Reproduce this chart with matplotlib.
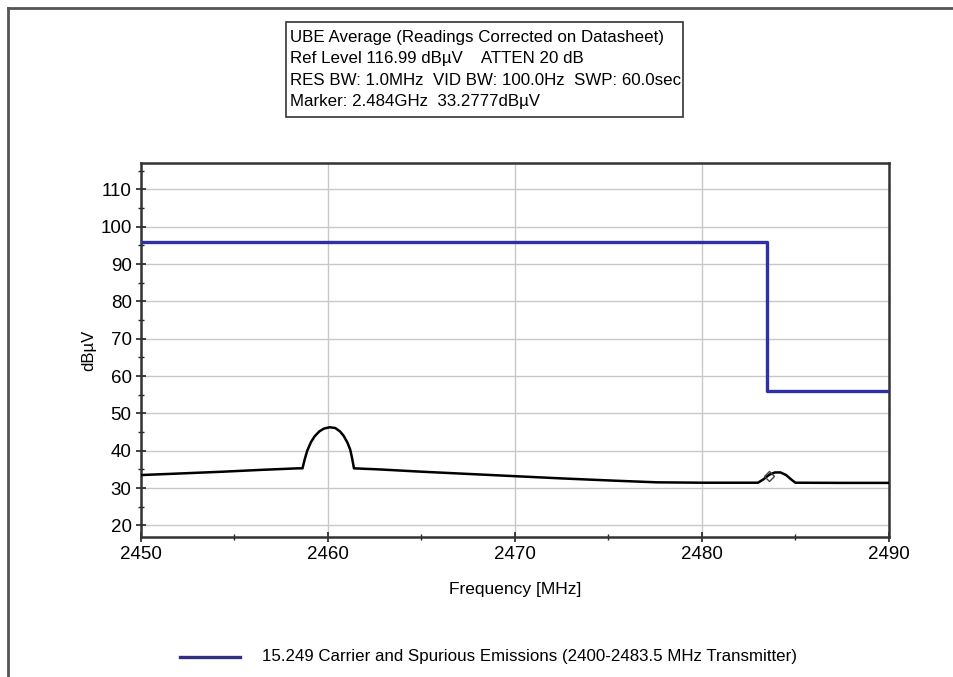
import matplotlib.pyplot as plt
from matplotlib.lines import Line2D
from matplotlib.patches import Rectangle
from matplotlib.ticker import MultipleLocator

plt.rcParams['font.family'] = ['Liberation Sans', 'DejaVu Sans']

freq_mhz = [2450.0, 2452.0, 2454.4, 2456.5, 2458.4, 2458.65, 2458.75, 2458.9,
            2459.1, 2459.3, 2459.55, 2459.8, 2460.1, 2460.4, 2460.65, 2460.85,
            2461.05, 2461.2, 2461.3, 2461.4, 2462.8, 2465.0, 2467.5, 2470.0,
            2472.5, 2475.3, 2477.6, 2480.0, 2483.0, 2483.3, 2483.6, 2483.9,
            2484.2, 2484.5, 2484.8, 2485.0, 2487.5, 2490.0]
level_dbuv = [33.5, 33.9, 34.4, 34.9, 35.3, 35.3, 37.4, 40.0,
              42.3, 43.9, 45.2, 45.95, 46.3, 46.1, 45.2, 44.0,
              42.2, 40.3, 38.0, 35.3, 35.0, 34.4, 33.8, 33.2,
              32.6, 32.0, 31.55, 31.45, 31.45, 32.4, 33.6, 34.2,
              34.2, 33.5, 32.2, 31.45, 31.4, 31.4]

# 15.249 limit line
limit_freq = [2450.0, 2483.5, 2483.5, 2490.0]
limit_level = [96.0, 96.0, 56.0, 56.0]
limit_label = "15.249 Carrier and Spurious Emissions (2400-2483.5 MHz Transmitter)"

marker_freq = [2483.6]
marker_level = [33.28]

header_lines = [
    "UBE Average (Readings Corrected on Datasheet)",
    "Ref Level 116.99 dB\u00b5V    ATTEN 20 dB",
    "RES BW: 1.0MHz  VID BW: 100.0Hz  SWP: 60.0sec",
    "Marker: 2.484GHz  33.2777dB\u00b5V",
]

W, H = 954, 677
fig = plt.figure(figsize=(W / 100, H / 100), dpi=100)
ax = fig.add_axes([140.7 / W, 1 - 536.7 / H, (889 - 140.7) / W, (536.7 - 163.3) / H])

ax.plot(freq_mhz, level_dbuv, color="black", lw=1.8, zorder=3)
ax.plot(marker_freq, marker_level, marker="D", ms=5, mfc="none", mec="#444444",
        mew=1.0, ls="none", zorder=4)
ax.plot(limit_freq, limit_level, color="#2f2fa8", lw=2.4, zorder=3)

ax.set_xlim(2450, 2490)
ax.set_ylim(16.99, 116.99)
ax.xaxis.set_major_locator(MultipleLocator(10))
ax.xaxis.set_minor_locator(MultipleLocator(5))
ax.yaxis.set_major_locator(MultipleLocator(10))
ax.yaxis.set_minor_locator(MultipleLocator(5))
ax.set_yticks(range(20, 111, 10))
ax.grid(True, which="major", color="#c8c8c8", lw=1.0)
ax.set_axisbelow(True)
ax.tick_params(which="major", direction="inout", length=7, width=1.2,
               labelsize=13.5, color="#222222", pad=3)
ax.tick_params(which="minor", direction="inout", length=5, width=1.0, color="#222222")
for s in ax.spines.values():
    s.set_color("#333333")
    s.set_linewidth(1.8)

ax.set_xlabel("Frequency [MHz]", fontsize=12.5, labelpad=14)
ax.set_ylabel("dB\u00b5V", fontsize=12, labelpad=3)

# header box
fig.add_artist(Rectangle((286 / W, 1 - 117 / H), (683 - 286) / W, (117 - 22) / H,
                         transform=fig.transFigure, fc="white", ec="#333333", lw=1.2))
baselines = [41.7, 63.2, 84.7, 106.0]
for line, yb in zip(header_lines, baselines):
    fig.text(290 / W, 1 - yb / H, line, fontsize=12.2, va="baseline", ha="left")

# legend
fig.add_artist(Line2D([180 / W, 240 / W], [1 - 657 / H, 1 - 657 / H],
                      color="#2f2f88", lw=2.4))
fig.text(262 / W, 1 - 657 / H, limit_label, fontsize=12.2, va="center", ha="left")

# window border (left and top)
fig.add_artist(Line2D([8.5 / W, 8.5 / W], [0, 1 - 7.5 / H], color="#555555", lw=2))
fig.add_artist(Line2D([8.5 / W, 1], [1 - 7.5 / H, 1 - 7.5 / H], color="#555555", lw=2))

fig.savefig("out.png", dpi=100)
